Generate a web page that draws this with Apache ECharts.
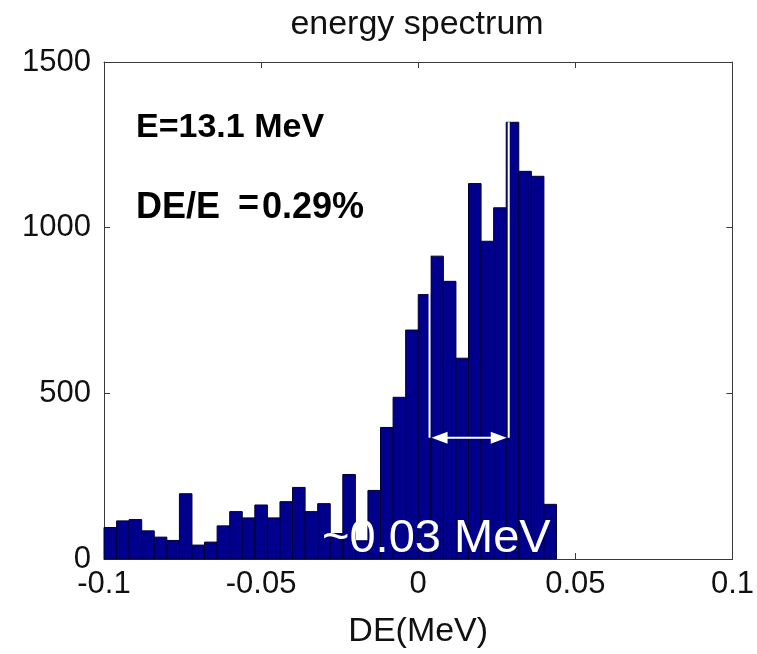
<!DOCTYPE html>
<html>
<head>
<meta charset="utf-8">
<script src="https://cdn.jsdelivr.net/npm/echarts@6/dist/echarts.min.js"></script>
<style>
html,body{margin:0;padding:0;background:#fff;}
#chart{width:757px;height:654px;}
</style>
</head>
<body>
<div id="chart"></div>
<script>
// ---- data ----
var binStart = -0.1;
var binWidth = 0.004;
var counts = [95, 115, 119, 85, 66, 56, 197, 42, 51, 100,
              143, 124, 163, 124, 173, 216, 143, 167, 77, 255,
              55, 207, 397, 488, 691, 798, 914, 838, 606, 1133,
              959, 1060, 1318, 1170, 1155, 165];
var xTicks = [-0.1, -0.05, 0, 0.05, 0.1];
var yTicks = [0, 500, 1000, 1500];
// annotation (white FWHM marker) in data units
var markerX = [0.0036, 0.0288];
var markerTop = [914, 1318];
var arrowY = 366;

var FONT = "'Liberation Sans', Arial, Helvetica, sans-serif";

var bars = counts.map(function (c, i) {
  var x0 = binStart + i * binWidth;
  return [x0, x0 + binWidth, c];
});

var chart = echarts.init(document.getElementById('chart'), null, {renderer: 'canvas'});

var axisLineStyle = {color: '#3a3a3a', width: 1};

var option = {
  animation: false,
  backgroundColor: '#ffffff',
  grid: {left: 104, right: 23, top: 62, bottom: 95, containLabel: false},
  xAxis: [{
    type: 'value', position: 'bottom',
    min: xTicks[0], max: xTicks[xTicks.length - 1], interval: 0.05,
    name: 'DE(MeV)', nameLocation: 'middle', nameGap: 56,
    nameTextStyle: {fontFamily: FONT, fontSize: 34, color: '#111'},
    axisLine: {show: true, onZero: false, lineStyle: axisLineStyle},
    axisTick: {show: true, inside: true, length: 6, lineStyle: axisLineStyle},
    axisLabel: {fontFamily: FONT, fontSize: 31, color: '#111', margin: 10,
      formatter: function (v) { return String(Math.round(v * 1000) / 1000); }},
    splitLine: {show: false}
  }, {
    type: 'value', position: 'top',
    min: xTicks[0], max: xTicks[xTicks.length - 1], interval: 0.05,
    axisLine: {show: true, onZero: false, lineStyle: axisLineStyle},
    axisTick: {show: true, inside: true, length: 6, lineStyle: axisLineStyle},
    axisLabel: {show: false},
    splitLine: {show: false}
  }],
  yAxis: [{
    type: 'value', position: 'left',
    min: yTicks[0], max: yTicks[yTicks.length - 1], interval: 500,
    axisLine: {show: true, onZero: false, lineStyle: axisLineStyle},
    axisTick: {show: true, inside: true, length: 6, lineStyle: axisLineStyle},
    axisLabel: {fontFamily: FONT, fontSize: 31, color: '#111', margin: 13,
      formatter: function (v) { return String(v); }},
    splitLine: {show: false}
  }, {
    type: 'value', position: 'right',
    min: yTicks[0], max: yTicks[yTicks.length - 1], interval: 500,
    axisLine: {show: true, onZero: false, lineStyle: axisLineStyle},
    axisTick: {show: true, inside: true, length: 6, lineStyle: axisLineStyle},
    axisLabel: {show: false},
    splitLine: {show: false}
  }],
  series: [{
    type: 'custom',
    xAxisIndex: 0, yAxisIndex: 0,
    data: bars,
    encode: {x: [0, 1], y: 2},
    renderItem: function (params, api) {
      var p0 = api.coord([api.value(0), api.value(2)]);
      var p1 = api.coord([api.value(1), 0]);
      return {
        type: 'rect',
        shape: {x: p0[0], y: p0[1], width: p1[0] - p0[0], height: p1[1] - p0[1]},
        style: {fill: '#00008c', stroke: '#000030', lineWidth: 1}
      };
    }
  }, {
    type: 'custom',
    xAxisIndex: 0, yAxisIndex: 0,
    data: [[markerX[0], markerTop[0], markerX[1], markerTop[1], arrowY]],
    encode: {x: [0, 2], y: [1, 3]},
    z: 5,
    renderItem: function (params, api) {
      var lTop = api.coord([api.value(0), api.value(1)]);
      var rTop = api.coord([api.value(2), api.value(3)]);
      var lA = api.coord([api.value(0), api.value(4)]);
      var rA = api.coord([api.value(2), api.value(4)]);
      var st = {stroke: '#ffffff', lineWidth: 2, fill: null};
      var ah = 16, aw = 6;
      return {
        type: 'group',
        children: [
          {type: 'line', shape: {x1: lTop[0], y1: lTop[1], x2: lA[0], y2: lA[1]}, style: st},
          {type: 'line', shape: {x1: rTop[0], y1: rTop[1], x2: rA[0], y2: rA[1]}, style: st},
          {type: 'line', shape: {x1: lA[0] + 6, y1: lA[1], x2: rA[0] - 6, y2: rA[1]}, style: st},
          {type: 'polygon', shape: {points: [[lA[0] + 2, lA[1]], [lA[0] + 2 + ah, lA[1] - aw], [lA[0] + 2 + ah, lA[1] + aw]]},
            style: {fill: '#ffffff'}},
          {type: 'polygon', shape: {points: [[rA[0] - 2, rA[1]], [rA[0] - 2 - ah, rA[1] - aw], [rA[0] - 2 - ah, rA[1] + aw]]},
            style: {fill: '#ffffff'}}
        ]
      };
    }
  }],
  graphic: [{
    type: 'text', x: 417, y: 8, z: 10,
    style: {text: 'energy spectrum', fontFamily: FONT, fontSize: 34, fontWeight: 'normal',
      fill: '#111', textAlign: 'center', textVerticalAlign: 'top'}
  }, {
    type: 'text', left: 136, top: 111, z: 10,
    style: {text: 'E=13.1 MeV', fontFamily: FONT, fontSize: 34, fontWeight: 'bold', fill: '#000'}
  }, {
    type: 'text', left: 136, top: 190, z: 10,
    style: {text: 'DE/E', fontFamily: FONT, fontSize: 36, fontWeight: 'bold', fill: '#000'}
  }, {
    type: 'text', left: 238, top: 187, z: 10,
    style: {text: '=', fontFamily: FONT, fontSize: 36, fontWeight: 'bold', fill: '#000'}
  }, {
    type: 'text', left: 262, top: 190, z: 10,
    style: {text: '0.29%', fontFamily: FONT, fontSize: 36, fontWeight: 'bold', fill: '#000'}
  }, {
    type: 'text', left: 322, top: 516, z: 10,
    style: {text: '~0.03 MeV', fontFamily: FONT, fontSize: 47, fontWeight: 'normal', fill: '#ffffff'}
  }]
};
chart.setOption(option);
</script>
</body>
</html>
